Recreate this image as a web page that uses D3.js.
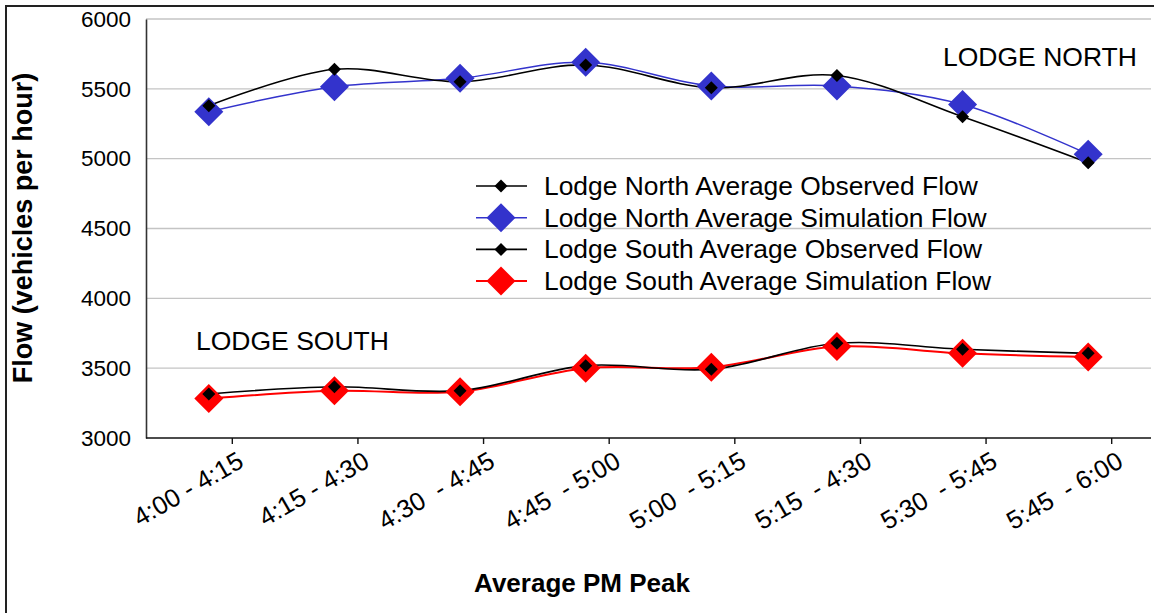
<!DOCTYPE html>
<html>
<head>
<meta charset="utf-8">
<script src="https://cdn.jsdelivr.net/npm/d3@7"></script>
<style>
  html, body { margin: 0; padding: 0; background: #fff; }
  svg { display: block; font-family: "Liberation Sans", Arial, sans-serif; }
  .tick-label { white-space: pre; }
</style>
</head>
<body>
<svg id="chart" width="1154" height="613"></svg>
<script>
// Fifteen-minute periods of the PM peak
const periods = ["4:00 - 4:15", "4:15 - 4:30", "4:30  - 4:45", "4:45  - 5:00",
                 "5:00  - 5:15", "5:15  - 4:30", "5:30  - 5:45", "5:45  - 6:00"];

// Average flows, vehicles per hour
const northObserved   = [5379, 5640, 5551, 5671, 5508, 5595, 5300, 4971];
const northSimulation = [5336, 5515, 5575, 5690, 5520, 5520, 5388, 5032];
const southObserved   = [3315, 3367, 3339, 3518, 3492, 3678, 3635, 3606];
const southSimulation = [3282, 3338, 3332, 3500, 3506, 3655, 3606, 3580];

const yTicks = [3000, 3500, 4000, 4500, 5000, 5500, 6000];

const seriesNames = ["Lodge North Average Observed Flow", "Lodge North Average Simulation Flow",
                     "Lodge South Average Observed Flow", "Lodge South Average Simulation Flow"];

const svg = d3.select("#chart");
const W = 1154, H = 613;
const plot = { left: 146, right: 1151, top: 19, bottom: 438 };

const x = d3.scaleBand().domain(periods).range([plot.left, plot.right]);
const cx = p => x(p) + x.bandwidth() / 2;
const tickShift = 23.5;
const xTick = d3.scaleBand().domain(periods).range([plot.left + tickShift, plot.right + tickShift]);
const y = d3.scaleLinear().domain([3000, 6000]).range([plot.bottom, plot.top]);

// outer frame (top and left edges)
svg.append("path")
  .attr("d", `M6,${H} L6,6 L${W},6`)
  .attr("fill", "none").attr("stroke", "#222").attr("stroke-width", 2);

// horizontal gridlines
svg.append("g").selectAll("line").data(yTicks.filter(v => v > 3000)).join("line")
  .attr("x1", plot.left).attr("x2", plot.right)
  .attr("y1", d => y(d)).attr("y2", d => y(d))
  .attr("stroke", "#c4c4c4").attr("stroke-width", 1.3);

// y axis
const yAxis = svg.append("g").attr("transform", `translate(${plot.left},0)`)
  .call(d3.axisLeft(y).tickValues(yTicks).tickSize(0).tickPadding(15).tickFormat(d3.format("d")));
yAxis.select(".domain").attr("stroke", "#333").attr("stroke-width", 1.6);
yAxis.selectAll("text").attr("font-size", 22.5).attr("fill", "#000")
  .attr("font-family", "'Liberation Sans', Arial, sans-serif");

// x axis line and ticks
svg.append("line").attr("x1", plot.left).attr("x2", plot.right)
  .attr("y1", plot.bottom).attr("y2", plot.bottom)
  .attr("stroke", "#111").attr("stroke-width", 1.6);
const xAxis = svg.append("g").attr("transform", `translate(0,${plot.bottom})`)
  .call(d3.axisBottom(xTick).tickSize(6).tickFormat(""));
xAxis.select(".domain").remove();
xAxis.selectAll(".tick line").attr("stroke", "#111").attr("stroke-width", 1.4);

svg.append("g").selectAll("text").data(periods).join("text")
  .attr("class", "tick-label")
  .attr("transform", d => `translate(${xTick(d) + xTick.bandwidth() / 2 + 13},466) rotate(-30)`)
  .attr("text-anchor", "end")
  .attr("font-size", 25.5)
  .attr("fill", "#000")
  .text(d => d);

// axis titles
svg.append("text")
  .attr("transform", `translate(32,228) rotate(-90)`)
  .attr("text-anchor", "middle").attr("font-size", 27).attr("font-weight", "bold")
  .text("Flow (vehicles per hour)");
svg.append("text")
  .attr("x", 582).attr("y", 592)
  .attr("text-anchor", "middle").attr("font-size", 26).attr("font-weight", "bold")
  .text("Average PM Peak");

// group annotations
svg.append("text").attr("x", 943).attr("y", 66).attr("font-size", 26.5).text("LODGE NORTH");
svg.append("text").attr("x", 196).attr("y", 350).attr("font-size", 26.5).text("LODGE SOUTH");

// series
const diamond = r => `M0,${-r} L${r},0 L0,${r} L${-r},0 Z`;
const line = d3.line().x((d, i) => cx(periods[i])).y(d => y(d)).curve(d3.curveCardinal.tension(0));

const series = [
  { values: northSimulation, color: "#3333cc", width: 1.5, marker: "#3333cc", r: 14.5, name: seriesNames[1] },
  { values: northObserved,   color: "#000",    width: 1.6, marker: "#000",    r: 6.5,  name: seriesNames[0] },
  { values: southSimulation, color: "#ff0000", width: 2,   marker: "#ff0000", r: 14.5, name: seriesNames[3] },
  { values: southObserved,   color: "#000",    width: 1.6, marker: "#000",    r: 6.5,  name: seriesNames[2] }
];

series.forEach(s => {
  svg.append("path").datum(s.values)
    .attr("d", line).attr("fill", "none")
    .attr("stroke", s.color).attr("stroke-width", s.width);
});
series.forEach(s => {
  svg.append("g").selectAll("path").data(s.values).join("path")
    .attr("transform", (d, i) => `translate(${cx(periods[i])},${y(d)})`)
    .attr("d", diamond(s.r)).attr("fill", s.marker);
});

// legend
const legendOrder = [series[1], series[0], series[3], series[2]];
const legend = svg.append("g");
legendOrder.forEach((s, i) => {
  const ry = 186 + i * 31.7;
  const g = legend.append("g").attr("transform", `translate(0,${ry})`);
  g.append("line").attr("x1", 476).attr("x2", 527).attr("y1", 0).attr("y2", 0)
    .attr("stroke", s.color).attr("stroke-width", s.width);
  g.append("path").attr("transform", "translate(501,0)").attr("d", diamond(s.r)).attr("fill", s.marker);
  g.append("text").attr("x", 544).attr("y", 9).attr("font-size", 26.4).attr("fill", "#000").text(s.name);
});
</script>
</body>
</html>
